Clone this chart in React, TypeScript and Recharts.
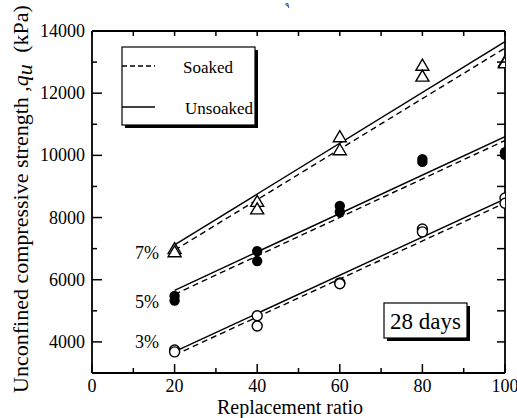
import React from "react"
import { ComposedChart, XAxis, YAxis, Line, Scatter } from "recharts"

// replacement ratio (%) where specimens were tested
const ratios = [20, 40, 60, 80, 100]

// measured qu (kPa), two specimens per point
const tri7A = [7000, 8520, 10600, 12900, 13020]
const tri7B = [6900, 8280, 10180, 12550, 12980]
const dot5A = [5480, 6920, 8370, 9880, 10100]
const dot5B = [5330, 6600, 8180, 9790, 10020]
const circ3A = [3740, 4840, 5900, 7630, 8630]
const circ3B = [3680, 4510, 5870, 7540, 8460]

// fitted lines, end points at 20 and 100
const fitX = [20, 100]
const soaked7 = [6950, 13450]
const unsoaked7 = [7120, 13660]
const soaked5 = [5530, 10480]
const unsoaked5 = [5660, 10600]
const soaked3 = [3580, 8470]
const unsoaked3 = [3690, 8600]

const xTicks = [0, 10, 20, 30, 40, 50, 60, 70, 80, 90, 100]
const yTicks = [3000, 4000, 5000, 6000, 7000, 8000, 9000, 10000, 11000, 12000, 13000, 14000]

const pts = (ys: number[], xs: number[] = ratios) => xs.map((x, i) => ({ x, y: ys[i] }))

const serif = "'Liberation Serif', 'Times New Roman', serif"
const frame = { stroke: "#000", strokeWidth: 1.8 }

const BottomTick = (p: any) => {
  const v = p.payload.value
  const major = v % 20 === 0
  return (
    <g>
      <line x1={p.x} x2={p.x} y1={p.y} y2={p.y - (major ? 9 : 5)} stroke="#000" strokeWidth={1.5} />
      {major && (
        <text x={p.x} y={p.y + 19} textAnchor="middle" fontSize={18} fontFamily={serif} fill="#000">
          {v}
        </text>
      )}
    </g>
  )
}

const TopTick = (p: any) => (
  <line x1={p.x} x2={p.x} y1={p.y} y2={p.y + 5} stroke="#000" strokeWidth={1.5} />
)

const LeftTick = (p: any) => {
  const v = p.payload.value
  const major = v % 2000 === 0
  return (
    <g>
      <line x1={p.x} x2={p.x + (major ? 10 : 5)} y1={p.y} y2={p.y} stroke="#000" strokeWidth={1.5} />
      {major && (
        <text x={p.x - 7} y={p.y + 6} textAnchor="end" fontSize={18} fontFamily={serif} fill="#000">
          {v}
        </text>
      )}
    </g>
  )
}

const RightTick = (p: any) => (
  <line x1={p.x} x2={p.x - 8} y1={p.y} y2={p.y} stroke="#000" strokeWidth={1.5} />
)

const Triangle = (p: any) => (
  <polygon
    points={`${p.cx},${p.cy - 6} ${p.cx - 6.5},${p.cy + 5} ${p.cx + 6.5},${p.cy + 5}`}
    fill="#fff"
    stroke="#000"
    strokeWidth={1.4}
  />
)
const Dot = (p: any) => <circle cx={p.cx} cy={p.cy} r={5.2} fill="#000" />
const Ring = (p: any) => <circle cx={p.cx} cy={p.cy} r={5} fill="#fff" stroke="#000" strokeWidth={1.4} />

const dash = "6 4"

export default function App() {
  return (
    <div style={{ position: "absolute", left: 0, top: 0, width: 517, height: 418, background: "#fff" }}>
      <ComposedChart width={517} height={418} margin={{ top: 30, right: 11, bottom: 44, left: 91 }}>
        <XAxis type="number" dataKey="x" domain={[0, 100]} ticks={xTicks} interval={0} allowDataOverflow
          height={1} tickSize={0} tickMargin={0} tickLine={false} axisLine={frame} tick={BottomTick} />
        <XAxis xAxisId="top" orientation="top" type="number" dataKey="x" domain={[0, 100]} ticks={xTicks} interval={0} allowDataOverflow
          height={1} tickSize={0} tickMargin={0} tickLine={false} axisLine={frame} tick={TopTick} />
        <YAxis type="number" domain={[3000, 14000]} ticks={yTicks} interval={0} allowDataOverflow
          width={1} tickSize={0} tickMargin={0} tickLine={false} axisLine={frame} tick={LeftTick} />
        <YAxis yAxisId="right" orientation="right" type="number" domain={[3000, 14000]} ticks={yTicks} interval={0} allowDataOverflow
          width={1} tickSize={0} tickMargin={0} tickLine={false} axisLine={frame} tick={RightTick} />

        <Line data={pts(unsoaked7, fitX)} dataKey="y" stroke="#000" strokeWidth={1.4} dot={false} isAnimationActive={false} />
        <Line data={pts(soaked7, fitX)} dataKey="y" stroke="#000" strokeWidth={1.4} strokeDasharray={dash} dot={false} isAnimationActive={false} />
        <Line data={pts(unsoaked5, fitX)} dataKey="y" stroke="#000" strokeWidth={1.4} dot={false} isAnimationActive={false} />
        <Line data={pts(soaked5, fitX)} dataKey="y" stroke="#000" strokeWidth={1.4} strokeDasharray={dash} dot={false} isAnimationActive={false} />
        <Line data={pts(unsoaked3, fitX)} dataKey="y" stroke="#000" strokeWidth={1.4} dot={false} isAnimationActive={false} />
        <Line data={pts(soaked3, fitX)} dataKey="y" stroke="#000" strokeWidth={1.4} strokeDasharray={dash} dot={false} isAnimationActive={false} />

        <Scatter data={pts(tri7A)} dataKey="y" shape={Triangle} isAnimationActive={false} />
        <Scatter data={pts(tri7B)} dataKey="y" shape={Triangle} isAnimationActive={false} />
        <Scatter data={pts(dot5A)} dataKey="y" shape={Dot} isAnimationActive={false} />
        <Scatter data={pts(dot5B)} dataKey="y" shape={Dot} isAnimationActive={false} />
        <Scatter data={pts(circ3A)} dataKey="y" shape={Ring} isAnimationActive={false} />
        <Scatter data={pts(circ3B)} dataKey="y" shape={Ring} isAnimationActive={false} />
      </ComposedChart>

      <svg width={517} height={418} style={{ position: "absolute", left: 0, top: 0, pointerEvents: "none" }} fontFamily={serif}>
        <text x={287} y={8} fontSize={8} textAnchor="middle">٩</text>

        {/* legend box */}
        <rect x={125} y={50} width={133} height={78} fill="#000" />
        <rect x={122} y={47} width={133} height={78} fill="#fff" stroke="#000" strokeWidth={1.2} />
        <line x1={122} x2={155} y1={66} y2={66} stroke="#000" strokeWidth={1.4} strokeDasharray="5 3" />
        <text x={183} y={73} fontSize={17}>Soaked</text>
        <line x1={122} x2={155} y1={107} y2={107} stroke="#000" strokeWidth={1.4} />
        <text x={185} y={114} fontSize={17}>Unsoaked</text>

        {/* curing time box */}
        <rect x={387} y={306} width={83} height={35} fill="#000" />
        <rect x={384} y={303} width={83} height={35} fill="#fff" stroke="#000" strokeWidth={1.2} />
        <text x={425.5} y={329} fontSize={23} textAnchor="middle">28 days</text>

        <text x={135} y={259} fontSize={18}>7%</text>
        <text x={135} y={308} fontSize={18}>5%</text>
        <text x={135} y={348} fontSize={18}>3%</text>

        <text x={290} y={414} fontSize={20} textAnchor="middle">Replacement ratio</text>
        <text transform="rotate(-90)" x={-199} y={28} fontSize={22} textAnchor="middle">
          Unconfined compressive strength ,<tspan fontStyle="italic">q</tspan>
          <tspan fontStyle="italic" dy={4}>u</tspan>
          <tspan dy={-4} dx={6}> (kPa)</tspan>
        </text>
      </svg>
    </div>
  )
}
